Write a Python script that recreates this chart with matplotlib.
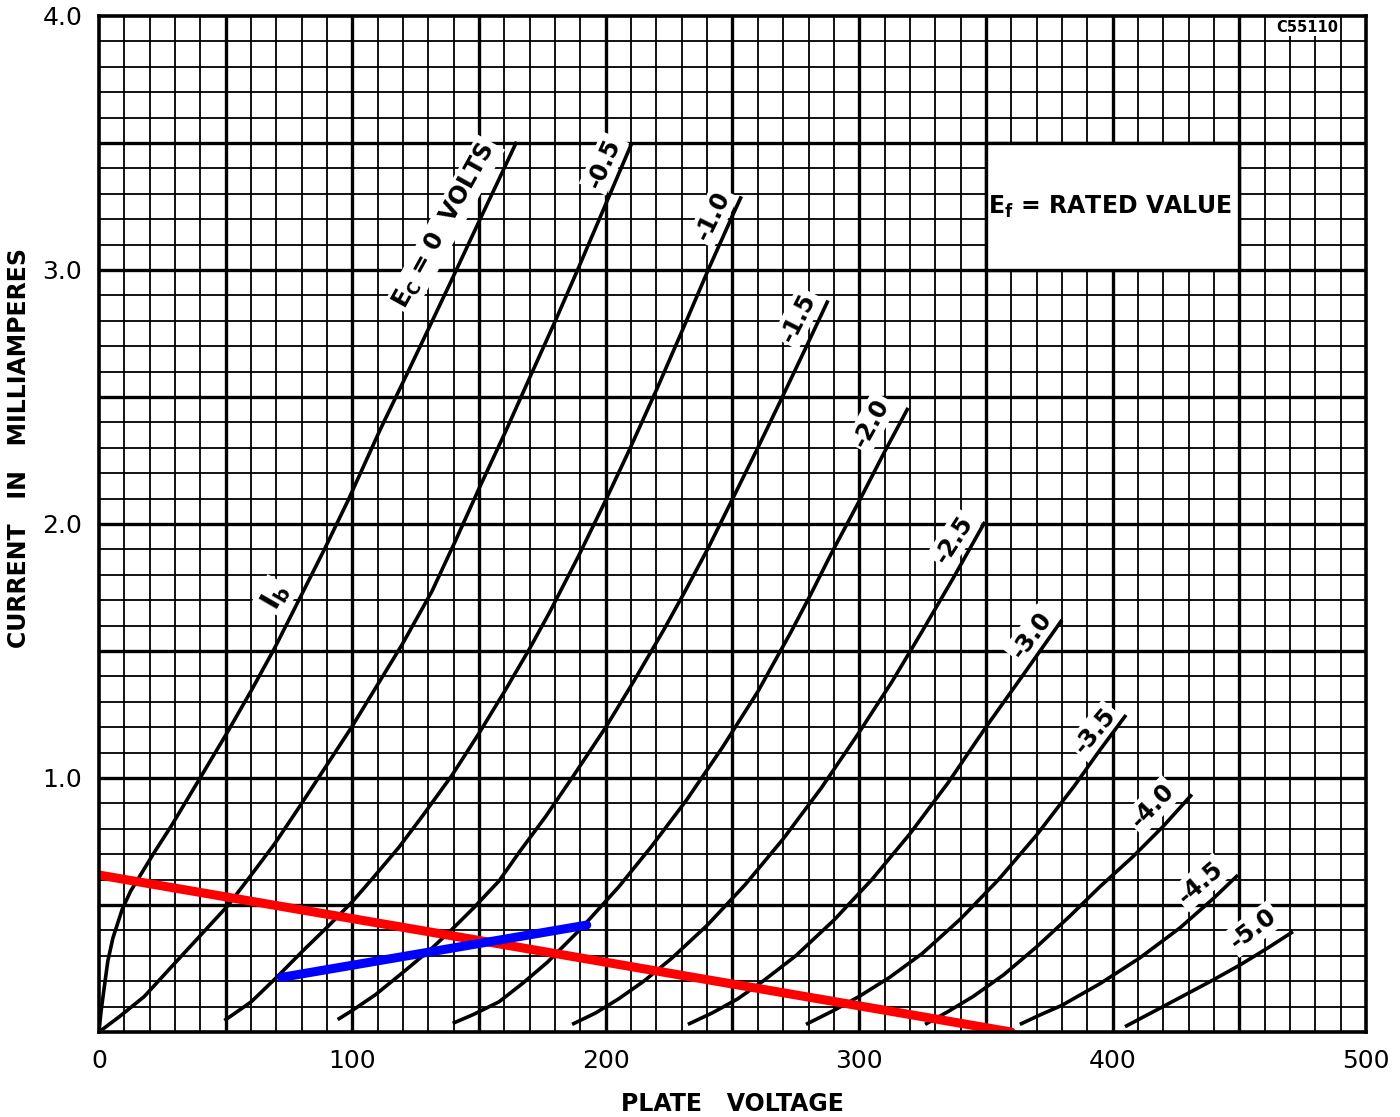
import numpy as np
import matplotlib.pyplot as plt
from matplotlib.ticker import MultipleLocator

# plate characteristics: plate volts vs plate current (mA)
ec0_v = [0, 0.8, 2, 3.5, 5.5, 9.2, 12.5, 16.5, 22, 28.4, 39.6, 50.2, 60.1, 69.4, 78.6, 89.2,
         98.4, 110.9, 122, 130.6, 138.2, 150.4, 158, 164.8]
ec0_i = [0, 0.08, 0.17, 0.28, 0.37, 0.484, 0.555, 0.62, 0.71, 0.809, 0.995, 1.172, 1.344, 1.513,
         1.695, 1.905, 2.095, 2.37, 2.6, 2.78, 2.94, 3.20, 3.36, 3.505]

ec05_v = [0, 8, 17.8, 28, 39, 50.9, 60, 69.4, 79, 89.2, 99.7, 109.5, 119.6, 131.4, 140.5, 150,
          160.5, 169.7, 180.1, 189.3, 199.8, 210.3]
ec05_i = [0, 0.06, 0.139, 0.25, 0.369, 0.498, 0.617, 0.742, 0.885, 1.04, 1.20, 1.36, 1.525, 1.735,
          1.93, 2.14, 2.365, 2.57, 2.80, 3.01, 3.255, 3.5]

ec10_v = [49.5, 60.1, 70.7, 80, 90.5, 99.7, 108, 118.2, 128, 139.4, 149.9, 160, 169.7, 177.7,
          189.3, 199.8, 209, 220.1, 229.9, 240.4, 249.6, 253.5]
ec10_i = [0.045, 0.119, 0.221, 0.315, 0.417, 0.51, 0.605, 0.725, 0.855, 1.012, 1.175, 1.34, 1.505,
          1.65, 1.875, 2.09, 2.285, 2.53, 2.755, 3.0, 3.205, 3.29]

ec15_v = [94.2, 100, 109, 120, 131.4, 139.4, 148, 157.9, 166, 176.4, 188, 200, 211, 222.7, 231,
          240.4, 249.6, 260, 269.2, 279.7, 287.7]
ec15_i = [0.049, 0.085, 0.146, 0.235, 0.33, 0.405, 0.49, 0.595, 0.71, 0.85, 1.02, 1.2, 1.38,
          1.58, 1.73, 1.905, 2.09, 2.3, 2.49, 2.71, 2.88]

ec20_v = [139.6, 148, 157.9, 167, 177, 190, 205, 218, 232, 246, 260, 273.1, 281, 288.8, 300,
          309.8, 319.3]
ec20_i = [0.034, 0.07, 0.119, 0.19, 0.275, 0.405, 0.57, 0.73, 0.915, 1.12, 1.34, 1.575, 1.725,
          1.88, 2.09, 2.28, 2.457]

ec25_v = [186.7, 196, 205, 215, 226, 240, 255, 270, 285, 300, 313, 325, 337, 349.6]
ec25_i = [0.03, 0.075, 0.13, 0.2, 0.29, 0.42, 0.58, 0.76, 0.96, 1.18, 1.38, 1.58, 1.785, 2.008]

ec30_v = [232.4, 242, 252, 262, 275, 290, 305, 320, 335, 350, 365, 380]
ec30_i = [0.03, 0.075, 0.13, 0.2, 0.3, 0.44, 0.6, 0.78, 0.98, 1.2, 1.41, 1.622]

ec35_v = [279, 290, 300, 312, 325, 340, 355, 370, 385, 395, 405.3]
ec35_i = [0.03, 0.085, 0.14, 0.215, 0.31, 0.445, 0.6, 0.775, 0.97, 1.11, 1.248]

ec40_v = [326, 335, 345, 357, 370, 383, 395, 408, 420, 431.3]
ec40_i = [0.03, 0.08, 0.14, 0.225, 0.335, 0.455, 0.572, 0.69, 0.81, 0.935]

ec45_v = [363.4, 372, 380, 395, 410.8, 426.6, 439.7, 449.5]
ec45_i = [0.03, 0.07, 0.105, 0.19, 0.292, 0.41, 0.525, 0.618]

ec50_v = [404.9, 419.9, 439.7, 450.3, 460.8, 471.2]
ec50_i = [0.021, 0.1, 0.205, 0.264, 0.328, 0.395]

curves = [(ec0_v, ec0_i), (ec05_v, ec05_i), (ec10_v, ec10_i), (ec15_v, ec15_i),
          (ec20_v, ec20_i), (ec25_v, ec25_i), (ec30_v, ec30_i), (ec35_v, ec35_i),
          (ec40_v, ec40_i), (ec45_v, ec45_i), (ec50_v, ec50_i)]

# grid-bias labels: text, volts, mA, angle
bias_labels = ['-0.5', '-1.0', '-1.5', '-2.0', '-2.5', '-3.0', '-3.5', '-4.0', '-4.5', '-5.0']
label_v = [199.3, 242.2, 275.8, 304.8, 337.3, 368.1, 393.1, 415.7, 434.8, 455.5]
label_i = [3.42, 3.212, 2.812, 2.398, 1.94, 1.562, 1.185, 0.891, 0.589, 0.406]
label_rot = [66, 64, 63, 61, 57, 53, 50, 46, 41, 37]

# load line and operating path
load_v = [0, 360]
load_i = [0.618, 0]
path_v = [72, 192.5]
path_i = [0.215, 0.421]

fig = plt.figure(figsize=(14, 11.17), dpi=100)
ax = fig.add_axes([0.0707, 0.0761, 0.905, 0.9096])

ax.set_xlim(0, 500)
ax.set_ylim(0, 4.0)
ax.xaxis.set_major_locator(MultipleLocator(100))
ax.yaxis.set_major_locator(MultipleLocator(1.0))

# graph-paper grid
for v in np.arange(10, 500, 10):
    ax.axvline(v, color='black', lw=2.4 if v % 50 == 0 else 1.3, zorder=1)
for c in np.arange(0.1, 4.0, 0.1):
    c = round(c, 1)
    ax.axhline(c, color='black', lw=2.4 if abs(c * 2 - round(c * 2)) < 1e-6 else 1.3, zorder=1)

for v, i in curves:
    ax.plot(v, i, color='black', lw=2.6, solid_capstyle='butt', solid_joinstyle='round', zorder=4)

ax.plot(load_v, load_i, color='#ff0000', lw=6.5, solid_capstyle='round', zorder=5)
ax.plot(path_v, path_i, color='#0000ff', lw=6.5, solid_capstyle='round', zorder=6)

box = dict(facecolor='white', edgecolor='none', pad=2)
for t, v, i, r in zip(bias_labels, label_v, label_i, label_rot):
    ax.text(v, i, t, rotation=r, rotation_mode='anchor', ha='center', va='center',
            fontsize=17, fontweight='bold', bbox=box, zorder=3)

ax.text(136.5, 3.175, r'E$_\mathregular{C}$ = 0  VOLTS', rotation=61, rotation_mode='anchor',
        ha='center', va='center', fontsize=17, fontweight='bold', bbox=box, zorder=3)
ax.text(69.5, 1.715, r'I$_\mathregular{b}$', rotation=60, rotation_mode='anchor',
        ha='center', va='center', fontsize=20, fontweight='bold', bbox=box, zorder=3)

# filament note box
ax.fill_between([350, 450], 3.0, 3.5, color='white', zorder=2)
ax.plot([350, 450, 450, 350, 350], [3.0, 3.0, 3.5, 3.5, 3.0], color='black', lw=2.4, zorder=2)
ax.text(399, 3.25, r'E$_\mathregular{f}$ = RATED VALUE', ha='center', va='center',
        fontsize=17, fontweight='bold', zorder=4)

ax.text(477, 3.955, 'C55110', ha='center', va='center', fontsize=10.5, fontweight='bold',
        bbox=dict(facecolor='white', edgecolor='none', pad=1), zorder=4)

for s in ax.spines.values():
    s.set_linewidth(2.6)
    s.set_zorder(7)

ax.tick_params(length=0, labelsize=18, pad=12)
ax.set_yticks([1.0, 2.0, 3.0, 4.0])
ax.set_yticklabels(['1.0', '2.0', '3.0', '4.0'])
ax.set_xticks([0, 100, 200, 300, 400, 500])

ax.set_xlabel('PLATE   VOLTAGE', fontsize=17, fontweight='bold', labelpad=14)
ax.set_ylabel('CURRENT   IN   MILLIAMPERES', fontsize=17, fontweight='bold')
ax.yaxis.set_label_coords(-0.054, 0.575)

fig.savefig('out.png', dpi=100)
